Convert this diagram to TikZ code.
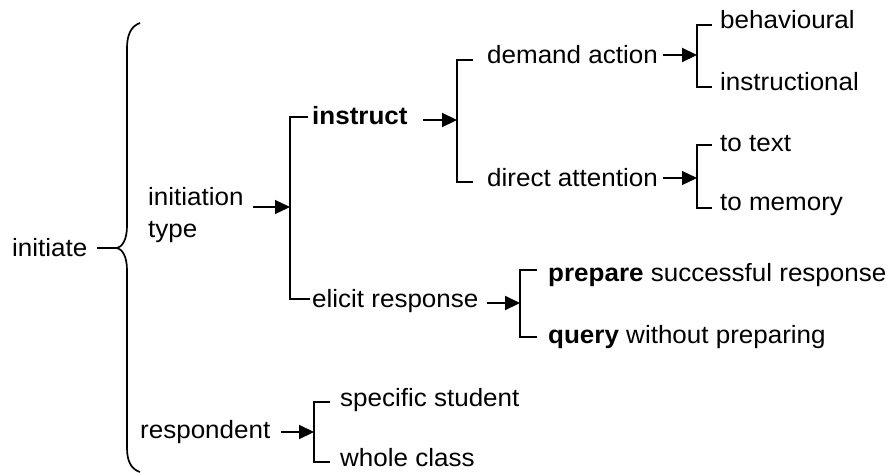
\documentclass[tikz,border=0pt]{standalone}
\usepackage{fontspec}
\setmainfont{Liberation Sans}[FakeStretch=1.04]
\usetikzlibrary{arrows.meta}
\begin{document}
\begin{tikzpicture}[x=1pt,y=-1pt,
  txt/.style={inner sep=0pt,anchor=base west,font=\fontsize{25}{32}\selectfont},
  brk/.style={line width=2.2pt},
  thickarr/.style={line width=2.2pt,-{Triangle[length=15pt,width=14pt]}},
  thinarr/.style={line width=1.2pt,-{Triangle[length=15pt,width=14pt]}},
  bracepath/.style={line width=1.7pt}]
\useasboundingbox (0,0) rectangle (887,472);

% text nodes
\node[txt] (initiate) at (12,256) {initiate};
\node[txt,anchor=west,align=left] (inittype) at (148,215) {initiation\\type};
\node[txt] (instruct) at (312,124) {\textbf{instruct}};
\node[txt] (elicit) at (312,307) {elicit response};
\node[txt] (demand) at (487,63) {demand action};
\node[txt] (direct) at (487,186) {direct attention};
\node[txt] (behav) at (720,28) {behavioural};
\node[txt] (instrl) at (720,90) {instructional};
\node[txt] (totext) at (720,151) {to text};
\node[txt] (tomem) at (720,210) {to memory};
\node[txt] (prepare) at (548,281) {\textbf{prepare} successful response};
\node[txt] (query) at (548,343) {\textbf{query} without preparing};
\node[txt] (respondent) at (140,438) {respondent};
\node[txt] (specific) at (340,406) {specific student};
\node[txt] (whole) at (340,466) {whole class};

% brace
\coordinate (bt) at (117,248);
\coordinate (bl) at (97,248);
\coordinate (btop) at (140,23);
\coordinate (bbot) at (140,472);
\draw[bracepath] (btop) .. controls (131,26) and (127,35) .. (127,48) -- (127,226)
  .. controls (127,240) and (122,247) .. (bt)
  .. controls (122,249) and (127,256) .. (127,270) -- (127,448)
  .. controls (127,461) and (131,469) .. (bbot);
\draw[bracepath] (bl) -- (bt);

% main bracket
\coordinate (m1) at (308,117); \coordinate (m2) at (290,117);
\coordinate (m3) at (290,299); \coordinate (m4) at (310,299);
\coordinate (mj) at (290,207); \coordinate (ma) at (253,207);
\draw[brk] (m1) -- (m2) -- (m3) -- (m4);
\draw[thinarr] (ma) -- (mj);

% instruct bracket
\coordinate (i1) at (473,60); \coordinate (i2) at (457,60);
\coordinate (i3) at (457,182); \coordinate (i4) at (473,182);
\coordinate (ij) at (457,120); \coordinate (ia) at (423,120);
\draw[brk] (i1) -- (i2) -- (i3) -- (i4);
\draw[thickarr] (ia) -- (ij);

% demand bracket
\coordinate (d1) at (712,25); \coordinate (d2) at (697,25);
\coordinate (d3) at (697,87); \coordinate (d4) at (712,87);
\coordinate (dj) at (697,55); \coordinate (da) at (663,55);
\draw[brk] (d1) -- (d2) -- (d3) -- (d4);
\draw[thickarr] (da) -- (dj);

% direct bracket
\coordinate (t1) at (712,145); \coordinate (t2) at (697,145);
\coordinate (t3) at (697,208); \coordinate (t4) at (712,208);
\coordinate (tj) at (697,178); \coordinate (ta) at (663,178);
\draw[brk] (t1) -- (t2) -- (t3) -- (t4);
\draw[thinarr] (ta) -- (tj);

% elicit bracket
\coordinate (e1) at (537,270); \coordinate (e2) at (520,270);
\coordinate (e3) at (520,337); \coordinate (e4) at (537,337);
\coordinate (ej) at (520,303); \coordinate (ea) at (487,303);
\draw[brk] (e1) -- (e2) -- (e3) -- (e4);
\draw[thickarr] (ea) -- (ej);

% respondent bracket
\coordinate (r1) at (330,402); \coordinate (r2) at (314,402);
\coordinate (r3) at (314,462); \coordinate (r4) at (330,462);
\coordinate (rj) at (314,432); \coordinate (ra) at (281,432);
\draw[brk] (r1) -- (r2) -- (r3) -- (r4);
\draw[thickarr] (ra) -- (rj);
\end{tikzpicture}
\end{document}
